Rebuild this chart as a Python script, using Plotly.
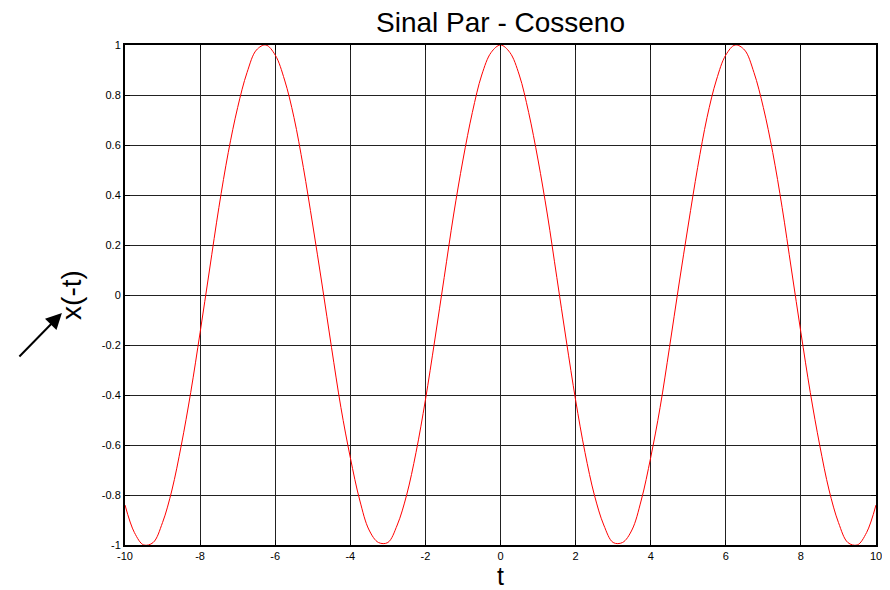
import plotly.graph_objects as go

t = [-10.0, -9.75, -9.5, -9.25, -9.0, -8.75, -8.5, -8.25, -8.0, -7.75, -7.5, -7.25, -7.0, -6.75,
     -6.5, -6.25, -6.0, -5.75, -5.5, -5.25, -5.0, -4.75, -4.5, -4.25, -4.0, -3.75, -3.5, -3.25,
     -3.0, -2.75, -2.5, -2.25, -2.0, -1.75, -1.5, -1.25, -1.0, -0.75, -0.5, -0.25, 0.0,
     0.25, 0.5, 0.75, 1.0, 1.25, 1.5, 1.75, 2.0, 2.25, 2.5, 2.75, 3.0, 3.25, 3.5, 3.75,
     4.0, 4.25, 4.5, 4.75, 5.0, 5.25, 5.5, 5.75, 6.0, 6.25, 6.5, 6.75, 7.0, 7.25, 7.5, 7.75,
     8.0, 8.25, 8.5, 8.75, 9.0, 9.25, 9.5, 9.75, 10.0]
x_neg_t = [-0.84, -0.95, -1.00, -0.99, -0.91, -0.78, -0.60, -0.39, -0.15, 0.10, 0.35, 0.57, 0.75, 0.89,
           0.98, 1.00, 0.96, 0.86, 0.71, 0.51, 0.28, 0.04, -0.21, -0.45, -0.65, -0.82, -0.94, -0.99,
           -0.99, -0.92, -0.80, -0.63, -0.42, -0.18, 0.07, 0.32, 0.54, 0.73, 0.88, 0.97, 1.00,
           0.97, 0.88, 0.73, 0.54, 0.32, 0.07, -0.18, -0.42, -0.63, -0.80, -0.92, -0.99, -0.99, -0.94, -0.82,
           -0.65, -0.45, -0.21, 0.04, 0.28, 0.51, 0.71, 0.86, 0.96, 1.00, 0.98, 0.89, 0.75, 0.57, 0.35, 0.10,
           -0.15, -0.39, -0.60, -0.78, -0.91, -0.99, -1.00, -0.95, -0.84]

x_ticks = [-10, -8, -6, -4, -2, 0, 2, 4, 6, 8, 10]
y_ticks = [-1, -0.8, -0.6, -0.4, -0.2, 0, 0.2, 0.4, 0.6, 0.8, 1]
y_tick_labels = ["-1", "-0.8", "-0.6", "-0.4", "-0.2", "0", "0.2", "0.4", "0.6", "0.8", "1"]

FONT = "Liberation Sans, Arial"

fig = go.Figure()
fig.add_trace(go.Scatter(x=t, y=x_neg_t, mode="lines",
                         line=dict(color="#ff0000", width=1, shape="spline", smoothing=1.0),
                         showlegend=False, hoverinfo="x+y"))

axis_common = dict(showline=True, linecolor="black", linewidth=2, mirror="ticks",
                   ticks="inside", ticklen=5, tickwidth=1, tickcolor="black",
                   showgrid=True, gridcolor="#222222", gridwidth=1, zeroline=False,
                   automargin=False,
                   tickfont=dict(family=FONT, size=11, color="black"))

fig.update_xaxes(range=[-10, 10], tickvals=x_ticks, ticktext=[str(v) for v in x_ticks],
                 title=dict(text="t", font=dict(family=FONT, size=25, color="black"), standoff=0),
                 **axis_common)
fig.update_yaxes(range=[-1, 1], tickvals=y_ticks, ticktext=y_tick_labels,
                 title=dict(text="x(-t)", font=dict(family=FONT, size=28, color="black"), standoff=12),
                 **axis_common)

fig.add_annotation(xref="paper", yref="paper", x=-0.084, y=0.464, ax=-44, ay=45,
                   axref="pixel", ayref="pixel", text="", showarrow=True,
                   arrowhead=2, arrowsize=1.6, arrowwidth=2, arrowcolor="black")

# the page body adds ~8px offset; margins compensate so the plot lands where the reference has it
fig.update_layout(
    width=890, height=590,
    margin=dict(l=117, r=22, t=37, b=53, autoexpand=False),
    paper_bgcolor="white", plot_bgcolor="white",
    title=dict(text="Sinal Par - Cosseno", x=0.5, xref="paper", xanchor="center",
               y=1 - 14 / 590, yref="container", yanchor="middle", automargin=False,
               font=dict(family=FONT, size=28, color="black")),
)

fig.write_html("out.html")
